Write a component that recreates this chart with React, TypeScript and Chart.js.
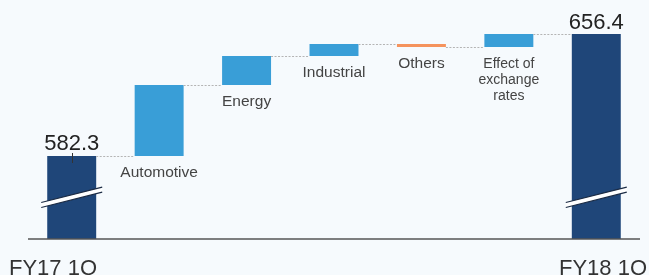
import React, { useEffect, useRef } from "react";
import { Chart, registerables } from "chart.js";

Chart.register(...registerables);

const categories = ["FY17 1Q", "Automotive", "Energy", "Industrial", "Others", "Effect of exchange rates", "FY18 1Q"];
const barLabels: string[][] = [[], ["Automotive"], ["Energy"], ["Industrial"], ["Others"], ["Effect of", "exchange", "rates"], []];
const startValue = 582.3;
const endValue = 656.4;
const changes = [43.1, 17.6, 7.3, -1.8, 7.9];
const axisBase = 531.9;
const axisTop = 677.05;
const breakValue = 557.2;
const startLabel = "582.3";
const endLabel = "656.4";

const NAVY = "#1f4679";
const BLUE = "#399ed7";
const ORANGE = "#f5935d";
const FONT = "'Liberation Sans', Arial, sans-serif";

function buildRanges() {
  const ranges: [number, number][] = [[axisBase, startValue]];
  let level = startValue;
  for (const c of changes) {
    ranges.push([level, level + c]);
    level += c;
  }
  ranges.push([axisBase, endValue]);
  return ranges;
}

export default function App() {
  const ref = useRef<HTMLCanvasElement | null>(null);
  useEffect(() => {
    if (!ref.current) return;
    const ranges = buildRanges();
    const colors = ranges.map((r, i) =>
      i === 0 || i === ranges.length - 1 ? NAVY : r[1] < r[0] ? ORANGE : BLUE
    );
    const overlay = {
      id: "overlay",
      beforeDraw(chart: any) {
        const ctx = chart.ctx;
        ctx.save();
        ctx.fillStyle = "#f6fafd";
        ctx.fillRect(0, 0, chart.width, chart.height);
        ctx.restore();
      },
      afterDatasetsDraw(chart: any) {
        const ctx = chart.ctx;
        const y = chart.scales.y;
        const area = chart.chartArea;
        const els = chart.getDatasetMeta(0).data;
        ctx.save();
        // connectors
        ctx.strokeStyle = "#b4b4b4";
        ctx.lineWidth = 1;
        ctx.setLineDash([2, 1.5]);
        for (let i = 0; i < els.length - 1; i++) {
          const lvl = ranges[i][1];
          const py = Math.round(y.getPixelForValue(lvl)) + 0.5;
          ctx.beginPath();
          ctx.moveTo(els[i].x + els[i].width / 2, py);
          ctx.lineTo(els[i + 1].x - els[i + 1].width / 2, py);
          ctx.stroke();
        }
        ctx.setLineDash([]);
        // axis line
        ctx.strokeStyle = "#555";
        ctx.lineWidth = 1.5;
        ctx.beginPath();
        ctx.moveTo(area.left, area.bottom);
        ctx.lineTo(area.right, area.bottom);
        ctx.stroke();
        // break marks
        const cy = y.getPixelForValue(breakValue);
        for (const i of [0, els.length - 1]) {
          const cx = els[i].x;
          ctx.fillStyle = "#ffffff";
          ctx.beginPath();
          ctx.moveTo(cx - 30.5, cy + 5.2);
          ctx.lineTo(cx + 30.5, cy - 10.2);
          ctx.lineTo(cx + 30.5, cy - 5.2);
          ctx.lineTo(cx - 30.5, cy + 10.2);
          ctx.closePath();
          ctx.fill();
          ctx.strokeStyle = "#1b2b44";
          ctx.lineWidth = 1.2;
          ctx.beginPath();
          ctx.moveTo(cx - 30.5, cy + 5.2);
          ctx.lineTo(cx + 30.5, cy - 10.2);
          ctx.moveTo(cx - 30.5, cy + 10.2);
          ctx.lineTo(cx + 30.5, cy - 5.2);
          ctx.stroke();
        }
        // small tick on first bar top
        const t0 = y.getPixelForValue(startValue);
        ctx.strokeStyle = "#333";
        ctx.lineWidth = 1;
        ctx.beginPath();
        ctx.moveTo(Math.round(els[0].x) + 0.5, t0 - 3);
        ctx.lineTo(Math.round(els[0].x) + 0.5, t0 + 7);
        ctx.stroke();
        // value labels
        ctx.fillStyle = "#222";
        ctx.font = `22px ${FONT}`;
        ctx.textAlign = "center";
        ctx.textBaseline = "alphabetic";
        ctx.fillText(startLabel, els[0].x, y.getPixelForValue(startValue) - 6.5);
        ctx.fillText(endLabel, els[els.length - 1].x, y.getPixelForValue(endValue) - 5);
        // category labels under floating bars
        ctx.fillStyle = "#444";
        for (let i = 1; i < els.length - 1; i++) {
          const lines = barLabels[i];
          const bottom = y.getPixelForValue(Math.min(ranges[i][0], ranges[i][1]));
          const multi = lines.length > 1;
          ctx.font = `${multi ? 14 : 15.5}px ${FONT}`;
          lines.forEach((ln, k) => {
            ctx.fillText(ln, els[i].x, bottom + 21 + k * 16);
          });
        }
        // end category labels
        ctx.fillStyle = "#333";
        ctx.font = `22px ${FONT}`;
        ctx.textAlign = "left";
        ctx.fillText(categories[0], 9, 275);
        ctx.textAlign = "right";
        ctx.fillText(categories[categories.length - 1], 647, 275);
        ctx.restore();
      },
    };
    const chart = new Chart(ref.current, {
      type: "bar",
      data: {
        labels: categories,
        datasets: [
          {
            data: ranges as any,
            backgroundColor: colors,
            borderWidth: 0,
            borderSkipped: false,
            categoryPercentage: 1,
            barPercentage: 0.56,
          },
        ],
      },
      options: {
        animation: false,
        responsive: false,
        maintainAspectRatio: false,
        layout: { padding: { left: 28, right: 9, top: 0, bottom: 36 } },
        plugins: { legend: { display: false }, tooltip: { enabled: false }, title: { display: false } },
        scales: {
          x: { display: false, offset: true },
          y: { display: false, min: axisBase, max: axisTop },
        },
      },
      plugins: [overlay],
    });
    return () => chart.destroy();
  }, []);
  return (
    <div style={{ position: "fixed", left: 0, top: 0, width: 649, height: 275 }}>
      <canvas ref={ref} width={649} height={275} style={{ display: "block", width: 649, height: 275 }} />
    </div>
  );
}
